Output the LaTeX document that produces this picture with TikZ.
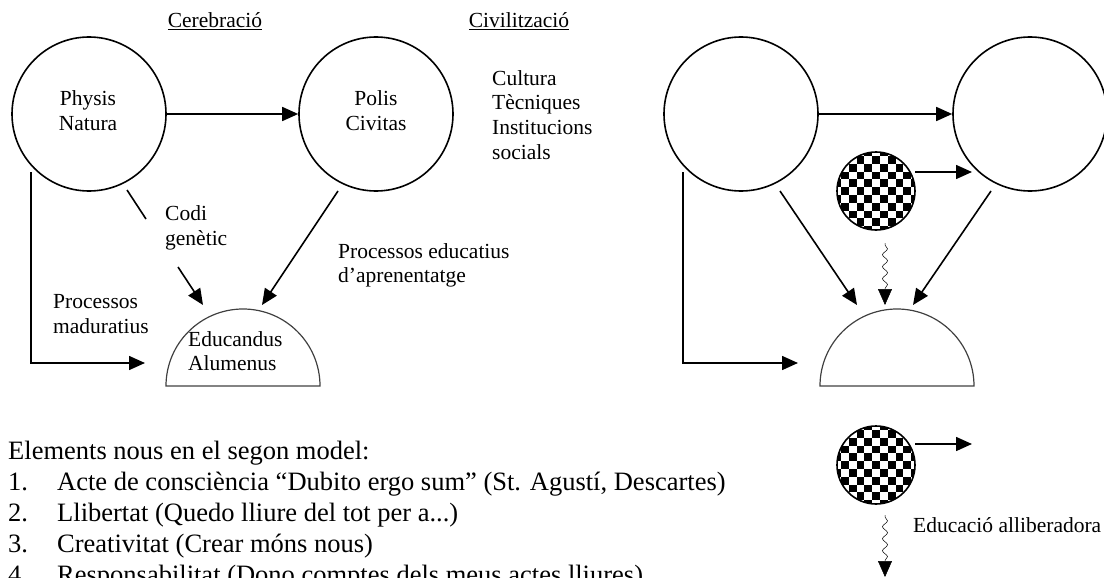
\documentclass[tikz,border=0pt]{standalone}
\usepackage{fontspec}
\setmainfont{Liberation Serif}
\usetikzlibrary{arrows.meta,decorations.pathmorphing}
\begin{document}
\begin{tikzpicture}[x=1pt,y=-1pt,
 lbl/.style={inner sep=0pt, anchor=base west, font=\fontsize{21.5}{25}\selectfont},
 lblc/.style={lbl, anchor=base},
 lst/.style={inner sep=0pt, anchor=base west, font=\fontsize{26.5}{31}\selectfont},
 ring/.style={circle, draw, line width=1.6pt, minimum size=154pt, inner sep=0pt},
 chkring/.style={circle, draw, line width=1.6pt, minimum size=78pt, inner sep=0pt},
 plain/.style={line width=1.6pt},
 arr/.style={line width=1.6pt, -{Triangle[length=16pt,width=14pt]}},
 wave/.style={line width=0.5pt, decorate, decoration={snake, amplitude=2.5pt, segment length=12pt, pre length=2pt, post length=15pt}, -{Triangle[length=16pt,width=14pt]}},
 domeline/.style={line width=1.2pt, draw=black!75},
]
\useasboundingbox (0,0) rectangle (1104,578);

% ---------- left model ----------
\node[ring] (c1) at (89,114) {};
\node[ring] (c2) at (376,114) {};
\node[lblc] (t1a) at (88,106) {Physis};
\node[lblc] (t1b) at (88,131) {Natura};
\node[lblc] (t2a) at (376,106) {Polis};
\node[lblc] (t2b) at (376,131) {Civitas};
\node[lblc] (hcer) at (215,28) {\underline{Cerebració}};
\node[lblc] (hciv) at (519,28) {\underline{Civilització}};
\node[lbl] (cu1) at (492,86) {Cultura};
\node[lbl] (cu2) at (492,110) {Tècniques};
\node[lbl] (cu3) at (492,135) {Institucions};
\node[lbl] (cu4) at (492,159) {socials};
\node[lbl] (cg1) at (165,220) {Codi};
\node[lbl] (cg2) at (165,245) {genètic};
\node[lbl] (pm1) at (53,308) {Processos};
\node[lbl] (pm2) at (53,333) {maduratius};
\node[lbl] (pe1) at (338,258) {Processos educatius};
\node[lbl] (pe2) at (338,282) {d’aprenentatge};

\coordinate (d1) at (243,386);
\draw[domeline] (d1) ++(-77,0) arc[start angle=180, end angle=360, radius=77] -- cycle;
\node[lbl] (ed1) at (188,346) {Educandus};
\node[lbl] (ed2) at (188,370) {Alumenus};

\draw[arr] (c1) -- (c2);
\coordinate (l1a) at (31,172);
\coordinate (l1b) at (31,363);
\coordinate (l1c) at (145,363);
\draw[arr] (l1a) -- (l1b) -- (l1c);
\coordinate (g1a) at (127,190);
\coordinate (g1b) at (146,219);
\coordinate (g1c) at (178,267);
\coordinate (g1d) at (203,305);
\draw[plain] (g1a) -- (g1b);
\draw[arr] (g1c) -- (g1d);
\coordinate (e1a) at (338,191);
\coordinate (e1b) at (262,305);
\draw[arr] (e1a) -- (e1b);

% ---------- right model ----------
\node[ring] (c3) at (741,114) {};
\node[ring] (c4) at (1030,114) {};
\draw[arr] (c3) -- (c4);

\foreach \cy/\nm in {191/chk1, 465/chk2}{
  \begin{scope}
    \clip (876,\cy) circle (39);
    \foreach \i in {-5,...,5}{
      \foreach \j in {-5,...,5}{
        \pgfmathtruncatemacro\parity{mod(\i+\j+20,2)}
        \ifnum\parity=0
          \fill (876+\i*7.8-3.9, \cy+\j*7.8-3.9) rectangle ++(7.8,7.8);
        \fi
      }
    }
  \end{scope}
  \node[chkring] (\nm) at (876,\cy) {};
}

\coordinate (k1a) at (915,172);
\coordinate (k1b) at (972,172);
\draw[arr] (k1a) -- (k1b);
\coordinate (l2a) at (683,172);
\coordinate (l2b) at (683,363);
\coordinate (l2c) at (798,363);
\draw[arr] (l2a) -- (l2b) -- (l2c);
\coordinate (r1a) at (780,191);
\coordinate (r1b) at (857,305);
\draw[arr] (r1a) -- (r1b);
\coordinate (r2a) at (991,191);
\coordinate (r2b) at (913,305);
\draw[arr] (r2a) -- (r2b);
\coordinate (s1a) at (885,243);
\coordinate (s1b) at (885,305);
\draw[wave] (s1a) -- (s1b);

\coordinate (d2) at (897,386);
\draw[domeline] (d2) ++(-77,0) arc[start angle=180, end angle=360, radius=77] -- cycle;

\coordinate (k2a) at (915,444);
\coordinate (k2b) at (972,444);
\draw[arr] (k2a) -- (k2b);
\coordinate (s2a) at (885,515);
\coordinate (s2b) at (885,577);
\draw[wave] (s2a) -- (s2b);
\node[lbl] (lib) at (913,532) {Educació alliberadora};

% ---------- list ----------
\node[lst] (el0) at (8,459) {Elements nous en el segon model:};
\node[lst] (n1) at (8,490) {1.};
\node[lst] (el1) at (57,490) {Acte de consciència “Dubito ergo sum” (St. Agustí, Descartes)};
\node[lst] (n2) at (8,521) {2.};
\node[lst] (el2) at (57,521) {Llibertat (Quedo lliure del tot per a...)};
\node[lst] (n3) at (8,552) {3.};
\node[lst] (el3) at (57,552) {Creativitat (Crear móns nous)};
\node[lst] (n4) at (8,583) {4.};
\node[lst] (el4) at (57,583) {Responsabilitat (Dono comptes dels meus actes lliures)};
\end{tikzpicture}
\end{document}
